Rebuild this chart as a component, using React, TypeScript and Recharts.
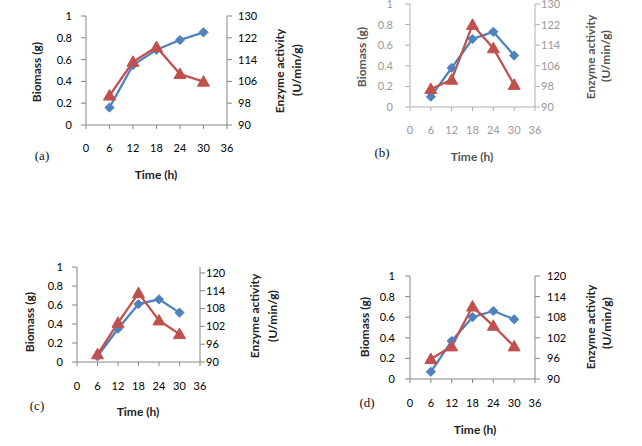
import React from 'react';
import { LineChart, Line, XAxis, YAxis } from 'recharts';

const times = [6, 12, 18, 24, 30];
const timeTicks = [0, 6, 12, 18, 24, 30, 36];
const biomassTicks = [0, 0.2, 0.4, 0.6, 0.8, 1];

const biomassA = [0.16, 0.55, 0.69, 0.78, 0.85];
const enzymeA = [100.8, 113.2, 118.6, 108.7, 105.9];
const biomassB = [0.1, 0.38, 0.66, 0.73, 0.5];
const enzymeB = [97, 100.6, 121.9, 112.8, 98.6];
const biomassC = [0.06, 0.35, 0.61, 0.66, 0.52];
const enzymeC = [92.6, 103.2, 113.2, 104, 99.4];
const biomassD = [0.07, 0.37, 0.6, 0.66, 0.58];
const enzymeD = [95.8, 99.5, 111.1, 105.5, 99.5];

const enzymeTicksAB = [90, 98, 106, 114, 122, 130];
const enzymeTicksCD = [90, 96, 102, 108, 114, 120];

const BLUE = '#4F81BD';
const RED = '#C0504D';
const FONT = 'Lato, "Open Sans", sans-serif';

const build = (b: number[], e: number[]) =>
  times.map((t, i) => ({ t, biomass: b[i], enzyme: e[i] }));

const Diamond = (p: any) => {
  const { cx, cy } = p;
  if (cx == null || cy == null) return null;
  const r = 4.6;
  return (
    <polygon
      key={p.key}
      points={`${cx},${cy - r} ${cx + r},${cy} ${cx},${cy + r} ${cx - r},${cy}`}
      fill={BLUE}
      stroke={BLUE}
    />
  );
};

const Triangle = (p: any) => {
  const { cx, cy } = p;
  if (cx == null || cy == null) return null;
  return (
    <polygon
      key={p.key}
      points={`${cx},${cy - 6} ${cx + 6},${cy + 4.5} ${cx - 6},${cy + 4.5}`}
      fill={RED}
      stroke={RED}
    />
  );
};

type PanelProps = {
  box: [number, number, number, number];
  plot: [number, number, number, number];
  data: any[];
  rDomain: [number, number];
  rTicks: number[];
  leftGap: number;
  rightGap: number;
  xGap: number;
  textColor: string;
  labelColor: string;
  axisColor: string;
  letter: string;
  letterPos: [number, number];
  timePos: [number, number];
  bioPos: [number, number];
  enz1Pos: [number, number];
  enz2Pos: [number, number];
};

const YW = 50;
const XH = 40;

const Panel = (p: PanelProps) => {
  const [bx, by, bw, bh] = p.box;
  const [L, T, R, B] = p.plot;
  const margin = {
    left: L - bx - YW,
    right: bx + bw - R - YW,
    top: T - by,
    bottom: by + bh - B - XH,
  };
  const tick = { fill: p.textColor, fontSize: 11, fontFamily: FONT };
  const axisLine = { stroke: p.axisColor, strokeWidth: 1 };
  const labelStyle: React.CSSProperties = {
    position: 'absolute',
    whiteSpace: 'nowrap',
    fontFamily: FONT,
    fontWeight: 'bold',
    fontSize: 12,
    color: p.labelColor,
    lineHeight: 1,
  };
  const rot = (pos: [number, number], text: string) => (
    <div
      style={{
        ...labelStyle,
        left: pos[0],
        top: pos[1],
        transform: 'translate(-50%, -50%) rotate(-90deg)',
      }}
    >
      {text}
    </div>
  );
  return (
    <>
      <div style={{ position: 'absolute', left: bx, top: by, width: bw, height: bh }}>
        <LineChart width={bw} height={bh} data={p.data} margin={margin}>
          <XAxis
            dataKey="t"
            type="number"
            domain={[0, 36]}
            ticks={timeTicks}
            tick={tick}
            tickSize={4}
            tickMargin={p.xGap}
            axisLine={axisLine}
            tickLine={axisLine}
            height={XH}
            interval={0}
            allowDataOverflow
          />
          <YAxis
            yAxisId="l"
            orientation="left"
            domain={[0, 1]}
            ticks={biomassTicks}
            tick={tick}
            tickSize={5}
            tickMargin={p.leftGap}
            axisLine={axisLine}
            tickLine={axisLine}
            width={YW}
            interval={0}
            allowDataOverflow
          />
          <YAxis
            yAxisId="r"
            orientation="right"
            domain={p.rDomain}
            ticks={p.rTicks}
            tick={{ ...tick, textAnchor: 'start' }}
            tickSize={5}
            tickMargin={p.rightGap}
            axisLine={axisLine}
            tickLine={axisLine}
            width={YW}
            interval={0}
            allowDataOverflow
          />
          <Line
            yAxisId="l"
            dataKey="biomass"
            stroke={BLUE}
            strokeWidth={2.3}
            dot={Diamond}
            activeDot={false}
            isAnimationActive={false}
          />
          <Line
            yAxisId="r"
            dataKey="enzyme"
            stroke={RED}
            strokeWidth={2.3}
            dot={Triangle}
            activeDot={false}
            isAnimationActive={false}
          />
        </LineChart>
      </div>
      {rot(p.bioPos, 'Biomass (g)')}
      {rot(p.enz1Pos, 'Enzyme activity')}
      {rot(p.enz2Pos, '(U/min/g)')}
      <div
        style={{
          ...labelStyle,
          left: p.timePos[0],
          top: p.timePos[1],
          transform: 'translate(-50%, -50%)',
        }}
      >
        Time (h)
      </div>
      <div
        style={{
          position: 'absolute',
          left: p.letterPos[0],
          top: p.letterPos[1],
          transform: 'translate(-50%, -50%)',
          fontFamily: '"Liberation Serif", "DejaVu Serif", serif',
          fontSize: 13,
          color: '#111',
          whiteSpace: 'nowrap',
        }}
      >
        {p.letter}
      </div>
    </>
  );
};

export default function App() {
  return (
    <div
      style={{
        position: 'absolute',
        left: 0,
        top: 0,
        width: 642,
        height: 446,
        background: '#fff',
        overflow: 'hidden',
      }}
    >
      <Panel
        box={[0, 0, 320, 223]}
        plot={[86, 16, 227, 125]}
        data={build(biomassA, enzymeA)}
        rDomain={[90, 130]}
        rTicks={enzymeTicksAB}
        leftGap={9}
        rightGap={6}
        xGap={15}
        textColor="#000"
        labelColor="#222"
        axisColor="#868686"
        letter="(a)"
        letterPos={[42, 156]}
        timePos={[156, 175]}
        bioPos={[37, 72]}
        enz1Pos={[280, 71]}
        enz2Pos={[297, 70]}
      />
      <Panel
        box={[320, 0, 322, 223]}
        plot={[410, 4, 535, 107]}
        data={build(biomassB, enzymeB)}
        rDomain={[90, 130]}
        rTicks={enzymeTicksAB}
        leftGap={12}
        rightGap={1}
        xGap={15}
        textColor="#999"
        labelColor="#555"
        axisColor="#b0b0b0"
        letter="(b)"
        letterPos={[382, 153]}
        timePos={[472, 157]}
        bioPos={[362, 57]}
        enz1Pos={[591, 57]}
        enz2Pos={[606, 56]}
      />
      <Panel
        box={[0, 223, 320, 223]}
        plot={[77, 267, 200, 362]}
        data={build(biomassC, enzymeC)}
        rDomain={[90, 122]}
        rTicks={enzymeTicksCD}
        leftGap={9}
        rightGap={1}
        xGap={16}
        textColor="#000"
        labelColor="#222"
        axisColor="#868686"
        letter="(c)"
        letterPos={[37, 406]}
        timePos={[138, 412]}
        bioPos={[30, 322]}
        enz1Pos={[255, 316]}
        enz2Pos={[273, 316]}
      />
      <Panel
        box={[320, 223, 322, 223]}
        plot={[410, 276, 535, 379]}
        data={build(biomassD, enzymeD)}
        rDomain={[90, 120]}
        rTicks={enzymeTicksCD}
        leftGap={10}
        rightGap={7}
        xGap={16}
        textColor="#000"
        labelColor="#222"
        axisColor="#868686"
        letter="(d)"
        letterPos={[367, 403]}
        timePos={[475, 430]}
        bioPos={[365, 327]}
        enz1Pos={[591, 327]}
        enz2Pos={[607, 323]}
      />
    </div>
  );
}
